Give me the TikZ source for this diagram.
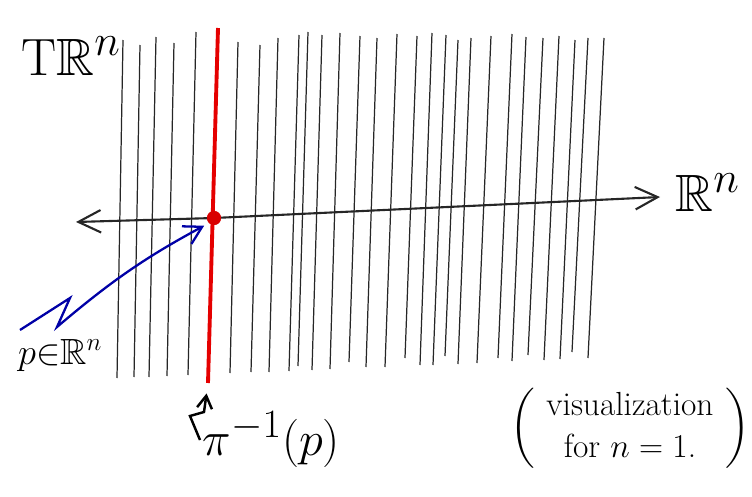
\documentclass[tikz,border=0pt]{standalone}
\usepackage{amssymb}
\usetikzlibrary{arrows.meta}

\begin{document}
\begin{tikzpicture}[
  x=0.02cm, y=-0.02cm,
  fibre/.style={black!85,line width=0.7pt},
  redfibre/.style={red!90!black,line width=2.2pt},
  axis/.style={black!85,line width=1.2pt,{Straight Barb[length=4.5mm,width=4.5mm]}-{Straight Barb[length=4.5mm,width=4.5mm]}},
  parrow/.style={-{Straight Barb[length=3.5mm,width=4mm]},blue!65!black,line width=1.3pt},
  zarrow/.style={-{Straight Barb[length=2.5mm,width=3mm]},line width=1.4pt},
  dot/.style={circle,fill=red!85!black,inner sep=0pt,minimum size=2.8mm},
  big/.style={font=\Huge,scale=1.2},
  mid/.style={font=\huge},
  note/.style={font=\LARGE,scale=1.1},
]
\useasboundingbox (0,0) rectangle (752,497);

% fibres of the tangent bundle
\foreach \xt/\yt/\xb/\yb in {123/40/117/378, 140/45/134/377, 156/37/149/377, 174/43/167/376,
  196/32/188/375, 238/42/230/373, 260/45/251/372, 278/38/269/372, 299/35/289/371,
  308/32/298/366, 322/35/312/370, 340/33/330/369, 360/36/349/362, 377/38/366/367,
  397/34/385/367, 417/36/405/358, 432/33/420/365, 446/35/433/365, 458/40/445/356,
  471/38/458/364, 491/36/477/363, 512/34/498/358, 526/37/512/361, 543/38/528/355,
  559/36/544/360, 575/40/560/359, 588/38/572/352, 604/38/588/358}{
  \draw[fibre] (\xt,\yt) -- (\xb,\yb);
}

% base space
\node[dot] (pdot) at (214,218) {};
\coordinate (axL) at (76,222);
\coordinate (axR) at (660,197);
\draw[axis] (axL) -- (pdot.center) -- (axR);

% the fibre over p
\coordinate (fibtop) at (218,28);
\coordinate (fibbot) at (208,383);
\draw[redfibre] (fibtop) -- (fibbot);
\node[dot] at (pdot) {};

% labels
\node[big,anchor=base west] (TRn) at (14,75) {$\mathrm{T}\mathbb{R}^n$};
\node[big,anchor=base west] (Rn) at (668,212) {$\mathbb{R}^n$};
\node[mid,anchor=base west] (plabel) at (12,364) {$p{\in}\mathbb{R}^n$};
\node[big,scale=0.92,anchor=base west] (preimage) at (196,455) {$\pi^{-1}(p)$};
\node[note] (vis) at (630,428) {$\left(\begin{tabular}{c}visualization\\for $n=1$.\end{tabular}\right)$};

% pointers
\coordinate (ptail) at (20,330);
\draw[parrow,shorten >=3pt] (ptail) -- (70,298) -- (57,327) to[bend left=6] (pdot.south west);
\coordinate (ztail) at (200,440);
\draw[zarrow,shorten >=6pt] (ztail) -- (190,416) -- (204,412) -- (fibbot);
\end{tikzpicture}
\end{document}
